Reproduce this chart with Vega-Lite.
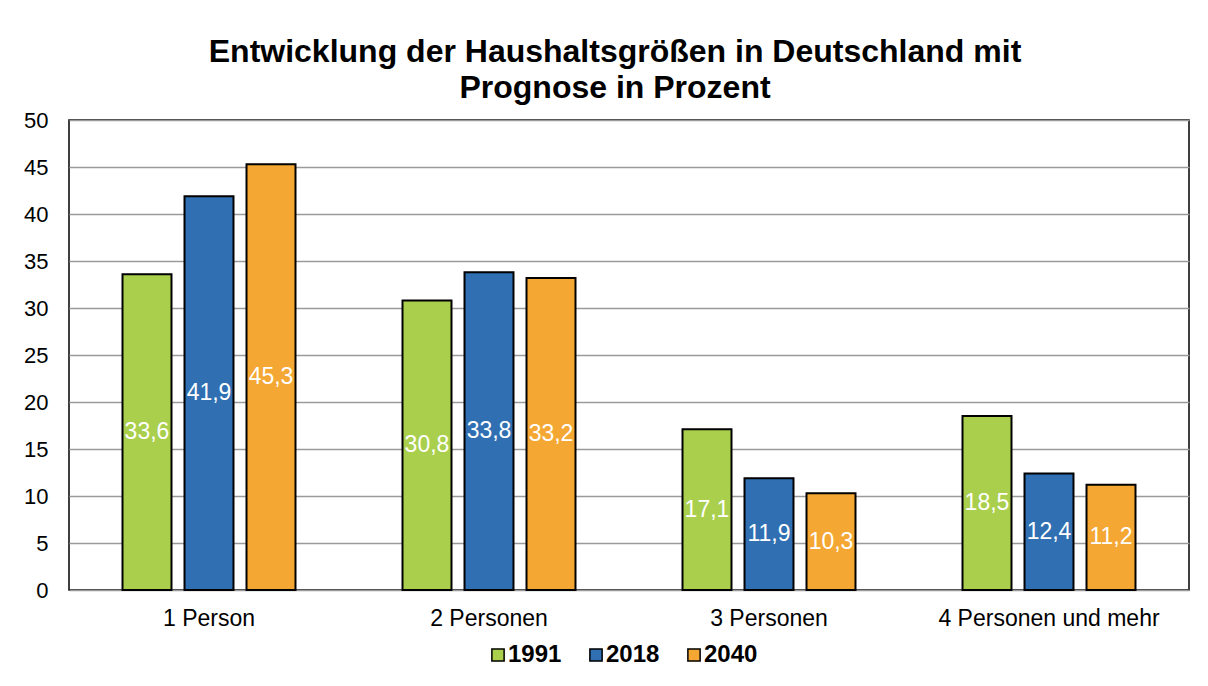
{
  "$schema": "https://vega.github.io/schema/vega-lite/v6.json",
  "width": 1120,
  "height": 470,
  "autosize": {"type": "none"},
  "padding": {"left": 69, "top": 120, "right": 19, "bottom": 96},
  "background": "white",
  "config": {
    "font": "Liberation Sans",
    "locale": {"number": {"decimal": ",", "thousands": ".", "grouping": [3], "currency": ["", " €"]}},
    "view": {"stroke": "black", "strokeWidth": 1.5}
  },
  "title": {
    "text": ["Entwicklung der Haushaltsgrößen in Deutschland mit", "Prognose in Prozent"],
    "fontSize": 32,
    "fontWeight": "bold",
    "color": "black",
    "anchor": "middle",
    "dx": -14,
    "offset": 4,
    "lineHeight": 36
  },
  "data": {
    "values": [
      {"kategorie": "1 Person", "jahr": "1991", "wert": 33.6},
      {"kategorie": "1 Person", "jahr": "2018", "wert": 41.9},
      {"kategorie": "1 Person", "jahr": "2040", "wert": 45.3},
      {"kategorie": "2 Personen", "jahr": "1991", "wert": 30.8},
      {"kategorie": "2 Personen", "jahr": "2018", "wert": 33.8},
      {"kategorie": "2 Personen", "jahr": "2040", "wert": 33.2},
      {"kategorie": "3 Personen", "jahr": "1991", "wert": 17.1},
      {"kategorie": "3 Personen", "jahr": "2018", "wert": 11.9},
      {"kategorie": "3 Personen", "jahr": "2040", "wert": 10.3},
      {"kategorie": "4 Personen und mehr", "jahr": "1991", "wert": 18.5},
      {"kategorie": "4 Personen und mehr", "jahr": "2018", "wert": 12.4},
      {"kategorie": "4 Personen und mehr", "jahr": "2040", "wert": 11.2}
    ]
  },
  "encoding": {
    "x": {
      "field": "kategorie",
      "type": "nominal",
      "sort": null,
      "scale": {"paddingInner": 0, "paddingOuter": 0},
      "axis": {"title": null, "labelAngle": 0, "ticks": false, "domain": false, "labelFontSize": 23, "labelColor": "black", "labelPadding": 17, "labelLimit": 0}
    },
    "xOffset": {
      "field": "jahr",
      "type": "nominal",
      "scale": {"paddingInner": 0.21, "paddingOuter": 0.863}
    }
  },
  "layer": [
    {
      "mark": {"type": "bar", "stroke": "black", "strokeWidth": 2},
      "encoding": {
        "y": {
          "field": "wert",
          "type": "quantitative",
          "scale": {"domain": [0, 50], "nice": false},
          "axis": {
            "title": null,
            "values": [0, 5, 10, 15, 20, 25, 30, 35, 40, 45, 50],
            "ticks": false,
            "domain": false,
            "labelFontSize": 22,
            "labelColor": "black",
            "labelPadding": 21,
            "gridColor": "#9a9a9a",
            "gridWidth": 1.5
          }
        },
        "color": {
          "field": "jahr",
          "type": "nominal",
          "scale": {"domain": ["1991", "2018", "2040"], "range": ["#a9cf4c", "#2f6fb2", "#f4a733"]},
          "legend": {
            "title": null,
            "orient": "none",
            "direction": "horizontal",
            "legendX": 417,
            "legendY": 523,
            "symbolType": "square",
            "symbolSize": 150,
            "symbolStrokeColor": "black",
            "symbolStrokeWidth": 1.5,
            "symbolOpacity": 1,
            "labelFontSize": 24,
            "labelFontWeight": "bold",
            "labelColor": "black",
            "labelOffset": -2,
            "columnPadding": 22
          }
        }
      }
    },
    {
      "mark": {"type": "text", "color": "white", "fontSize": 23, "baseline": "middle", "align": "center"},
      "encoding": {
        "y": {
          "field": "wert",
          "type": "quantitative",
          "scale": {"domain": [0, 100], "nice": false},
          "axis": null
        },
        "text": {"field": "wert", "type": "quantitative", "format": ".1f"}
      }
    }
  ],
  "resolve": {"scale": {"y": "independent"}}
}
